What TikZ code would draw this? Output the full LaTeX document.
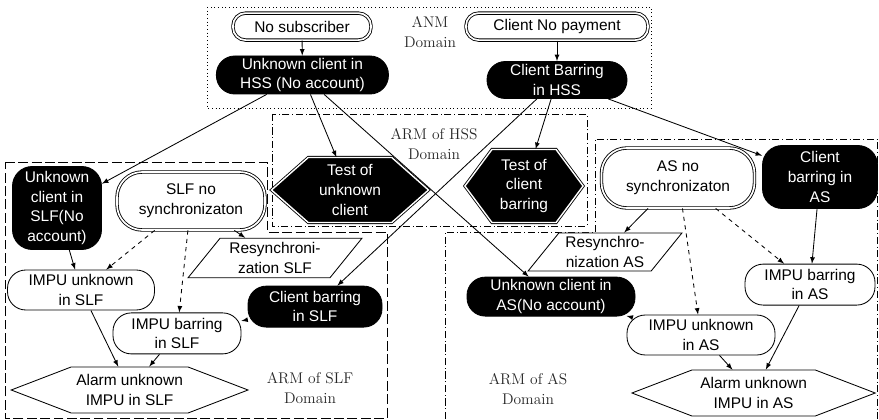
\documentclass[tikz,border=0pt]{standalone}
\usepackage{fontspec}
\setsansfont{Liberation Sans}
\usetikzlibrary{arrows,shapes.symbols,shapes.geometric}

\tikzset{
	every node/.style={font=\sffamily\fontsize{11}{14}\selectfont, align=center, inner sep=1pt},
	state/.style={draw, fill=white, rounded corners=13pt},
	init/.style={state, double, double distance=1.2pt},
	fault/.style={state, fill=black, text=white},
	test/.style={signal, signal to=east and west, draw, fill=black, text=white, double=white, double distance=1pt},
	alarm/.style={signal, signal to=east and west, draw, fill=white, signal pointer angle=42},
	action/.style={trapezium, trapezium left angle=51, trapezium right angle=129, draw, fill=white},
	areatext/.style={font=\rmfamily\fontsize{11}{14}\selectfont, text=black!85},
}

\begin{document}
\begin{tikzpicture}[line width=0.6pt, >=latex]
	\useasboundingbox (0,0) rectangle (21.975,10.475);

	% domains
	\draw[dotted] (5.175,10.3) rectangle (16.275,7.775);
	\draw[dash pattern=on 5pt off 2pt on 0.6pt off 2pt] (6.8,7.625) rectangle (14.675,4.825);
	\draw[dash pattern=on 7pt off 2.5pt] (0.125,6.425) -- (6.675,6.425) -- (6.675,4.675) -- (9.675,4.675) -- (9.675,0.025) -- (0.125,0.025) -- cycle;
	\draw[dash pattern=on 5pt off 2pt on 0.6pt off 2pt] (11.125,0) -- (11.125,4.675) -- (14.875,4.675) -- (14.875,7.0) -- (21.925,7.0) -- (21.925,0);

	\node[areatext] (anm) at (10.75,9.675) {ANM\\Domain};
	\node[areatext] (armhss) at (10.85,6.875) {ARM of HSS\\Domain};
	\node[areatext] (armslf) at (7.75,0.775) {ARM of SLF\\Domain};
	\node[areatext] (armas) at (13.2,0.75) {ARM of AS\\Domain};

	% ANM
	\node[init, rounded corners=9pt, minimum width=3.45cm, minimum height=0.675cm] (nosub) at (7.55,9.81) {No subscriber};
	\node[init, rounded corners=9pt, minimum width=4.55cm, minimum height=0.675cm] (nopay) at (13.925,9.81) {Client No payment};
	\node[fault, minimum width=4.3cm, minimum height=0.95cm] (hssunk) at (7.56,8.6) {Unknown client in\\HSS (No account)};
	\node[fault, minimum width=3.5cm, minimum height=0.925cm] (hssbar) at (13.925,8.475) {Client Barring\\in HSS};

	% HSS
	\node[test, inner xsep=0.27cm, minimum height=1.625cm, signal pointer angle=83] (testunk) at (8.75,5.725) {Test of\\unknown\\client};
	\node[test, inner xsep=0.2cm, minimum height=1.825cm, signal pointer angle=107] (testbar) at (13.1,5.825) {Test of\\client\\barring};

	% SLF
	\node[fault, rounded corners=14pt, minimum width=2.225cm, minimum height=2.075cm] (slfunk) at (1.425,5.275) {Unknown\\client in\\SLF(No\\account)};
	\node[init, rounded corners=18pt, minimum width=3.7cm, minimum height=1.45cm] (slfsync) at (4.775,5.45) {SLF no\\synchronizaton};
	\node[action, minimum width=4.35cm, minimum height=0.925cm] (slfresync) at (6.875,4.025) {Resynchroni-\\zation SLF};
	\node[state, minimum width=3.675cm, minimum height=1cm] (slfimpuunk) at (2.025,3.225) {IMPU unknown\\in SLF};
	\node[fault, minimum width=3.35cm, minimum height=1.025cm] (slfclbar) at (7.875,2.81) {Client barring\\in SLF};
	\node[state, minimum width=3.2cm, minimum height=1.025cm] (slfimpubar) at (4.425,2.14) {IMPU barring\\in SLF};
	\node[alarm, inner xsep=0.13cm, minimum height=1.15cm] (slfalarm) at (3.24,0.725) {Alarm unknown\\IMPU in SLF};

	% AS
	\node[init, rounded corners=18pt, minimum width=3.825cm, minimum height=1.5cm] (assync) at (16.95,6.025) {AS no\\synchronizaton};
	\node[fault, rounded corners=14pt, minimum width=2.875cm, minimum height=1.575cm] (asclbar) at (20.5,6.05) {Client\\barring in\\AS};
	\node[action, minimum width=3.85cm, minimum height=0.9cm] (asresync) at (15.125,4.175) {Resynchro-\\nization AS};
	\node[fault, minimum width=4.2cm, minimum height=0.975cm] (asunk) at (13.775,3.06) {Unknown client in\\AS(No account)};
	\node[state, minimum width=3.25cm, minimum height=1.025cm] (asimpubar) at (20.25,3.36) {IMPU barring\\in AS};
	\node[state, minimum width=3.7cm, minimum height=1cm] (asimpuunk) at (17.525,2.1) {IMPU unknown\\in AS};
	\node[alarm, inner xsep=0.21cm, minimum height=1.15cm] (asalarm) at (18.84,0.65) {Alarm unknown\\IMPU in AS};

	\path[->] (nosub) edge (hssunk);
	\path[->] (nopay) edge (hssbar);
	\path[->] (hssunk) edge (slfunk) edge (testunk) edge (asunk);
	\path[->] (hssbar) edge (testbar) edge (slfclbar) edge (asclbar);

	\path[->] (slfsync) edge (slfresync);
	\path[->, dashed] (slfsync) edge (slfimpuunk) edge (slfimpubar);
	\path[->] (slfunk) edge (slfimpuunk);
	\path[->] (slfclbar) edge (slfimpubar);
	\path[->] (slfimpuunk) edge (slfalarm);
	\path[->] (slfimpubar) edge (slfalarm);

	\path[->] (assync) edge (asresync);
	\path[->, dashed] (assync) edge (asimpuunk) edge (asimpubar);
	\path[->] (asclbar) edge (asimpubar);
	\path[->] (asunk) edge (asimpuunk);
	\path[->] (asimpuunk) edge (asalarm);
	\path[->] (asimpubar) edge (asalarm);
\end{tikzpicture}
\end{document}
